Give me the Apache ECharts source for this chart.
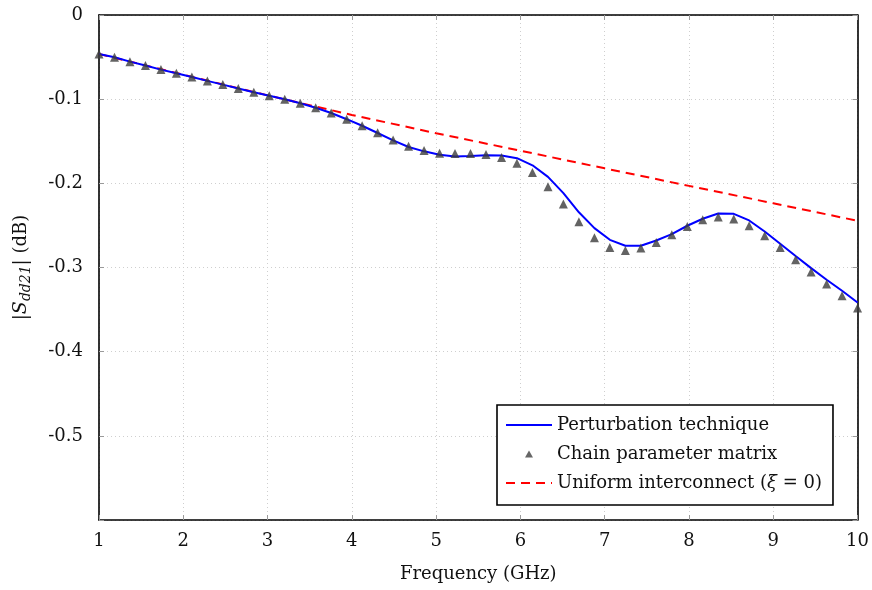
<!DOCTYPE html>
<html>
<head>
<meta charset="utf-8">
<script src="https://cdn.jsdelivr.net/npm/echarts@6/dist/echarts.min.js"></script>
<style>
html,body{margin:0;padding:0;background:#fff;}
#chart{width:872px;height:590px;}
</style>
</head>
<body>
<div id="chart"></div>
<script>
// Frequencies (GHz) for the sampled curves
const freqs = [1.000,1.184,1.367,1.551,1.735,1.918,2.102,2.286,2.469,2.653,
  2.837,3.020,3.204,3.388,3.571,3.755,3.939,4.122,4.306,4.490,
  4.673,4.857,5.041,5.224,5.408,5.592,5.776,5.959,6.143,6.327,
  6.510,6.694,6.878,7.061,7.245,7.429,7.612,7.796,7.980,8.163,
  8.347,8.531,8.714,8.898,9.082,9.265,9.449,9.633,9.816,10.000];

// Perturbation technique (blue solid)
const perturbVals = [-0.0463,-0.0502,-0.0554,-0.0601,-0.0649,-0.0692,-0.0736,-0.0783,-0.0827,-0.0874,
  -0.0918,-0.0960,-0.1001,-0.1048,-0.1102,-0.1165,-0.1238,-0.1316,-0.1402,-0.1490,
  -0.1568,-0.1620,-0.1660,-0.1680,-0.1674,-0.1666,-0.1670,-0.1701,-0.1786,-0.1923,
  -0.2117,-0.2344,-0.2532,-0.2671,-0.2742,-0.2742,-0.2679,-0.2603,-0.2504,-0.2421,
  -0.2358,-0.2362,-0.2441,-0.2572,-0.2718,-0.2864,-0.3007,-0.3145,-0.3276,-0.3415];

// Chain parameter matrix (triangles)
const chainVals = [-0.0463,-0.0502,-0.0554,-0.0601,-0.0649,-0.0692,-0.0736,-0.0783,-0.0827,-0.0874,
  -0.0918,-0.0960,-0.1001,-0.1048,-0.1102,-0.1165,-0.1238,-0.1316,-0.1399,-0.1484,
  -0.1560,-0.1610,-0.1642,-0.1646,-0.1646,-0.1658,-0.1694,-0.1760,-0.1872,-0.2040,
  -0.2245,-0.2455,-0.2647,-0.2762,-0.2798,-0.2769,-0.2703,-0.2611,-0.2513,-0.2433,
  -0.2400,-0.2425,-0.2504,-0.2623,-0.2762,-0.2908,-0.3054,-0.3197,-0.3335,-0.3482];

// Uniform interconnect (red dashed)
const uniformFreqs = [1,2,3,4,5,6,7,8,9,10];
const uniformVals = [-0.0463,-0.0710,-0.0955,-0.1187,-0.1405,-0.1612,-0.1822,-0.2030,-0.2237,-0.2445];

const xTicks = [1,2,3,4,5,6,7,8,9,10];
const yTicks = [0,-0.1,-0.2,-0.3,-0.4,-0.5];

const seriesNames = ['Perturbation technique','Chain parameter matrix','Uniform interconnect (ξ = 0)'];

const FONT = 'DejaVu Serif';
const zip = (xs, ys) => xs.map((x, i) => [x, ys[i]]);

const chart = echarts.init(document.getElementById('chart'), null, {renderer: 'canvas'});

const gridLine = {show: true, lineStyle: {color: '#cfcfcf', width: 1, type: [1, 3]}};
const tickStyle = {show: true, inside: true, length: 5, lineStyle: {color: '#9a9a9a', width: 1}};
const frameLine = {show: true, onZero: false, lineStyle: {color: '#000', width: 1.6}};

chart.setOption({
  animation: false,
  backgroundColor: '#fff',
  grid: {left: 99, right: 13, top: 15, bottom: 70, containLabel: false},
  xAxis: [{
    type: 'value', min: 1, max: 10, interval: 1,
    name: 'Frequency (GHz)', nameLocation: 'middle', nameGap: 45,
    nameTextStyle: {fontFamily: FONT, fontSize: 18, color: '#111'},
    axisLine: frameLine,
    axisTick: tickStyle,
    splitLine: gridLine,
    axisLabel: {fontFamily: FONT, fontSize: 18, color: '#111', margin: 12,
      formatter: v => xTicks.includes(v) ? String(v) : ''}
  }, {
    type: 'value', min: 1, max: 10, interval: 1, position: 'top',
    axisLine: frameLine, axisTick: tickStyle, axisLabel: {show: false}, splitLine: {show: false}
  }],
  yAxis: [{
    type: 'value', min: -0.6, max: 0, interval: 0.1,
    name: '|{s|S}{sub|dd21}| (dB)', nameLocation: 'middle', nameGap: 66, nameRotate: 90,
    nameTextStyle: {fontFamily: FONT, fontSize: 18, color: '#111',
      rich: {
        s: {fontFamily: FONT, fontSize: 19, fontStyle: 'italic', color: '#111'},
        sub: {fontFamily: FONT, fontSize: 14, fontStyle: 'italic', color: '#111', padding: [9, 0, 0, 0]}
      }},
    axisLine: frameLine,
    axisTick: tickStyle,
    splitLine: gridLine,
    axisLabel: {fontFamily: FONT, fontSize: 18, color: '#111', margin: 16,
      formatter: v => {
        const m = yTicks.find(t => Math.abs(t - v) < 1e-9);
        if (m === undefined) return '';
        return m === 0 ? '0' : m.toFixed(1);
      }}
  }, {
    type: 'value', min: -0.6, max: 0, interval: 0.1, position: 'right',
    axisLine: frameLine, axisTick: tickStyle, axisLabel: {show: false}, splitLine: {show: false}
  }],
  legend: {
    orient: 'vertical', left: 497, top: 405,
    backgroundColor: '#fff', borderColor: '#000', borderWidth: 1.6,
    padding: [11, 11, 13, 8], itemGap: 11, itemWidth: 46, itemHeight: 10,
    textStyle: {fontFamily: FONT, fontSize: 18, color: '#111',
      rich: {i: {fontFamily: FONT, fontSize: 18, fontStyle: 'italic', color: '#111'}}},
    formatter: name => name === seriesNames[2] ? 'Uniform interconnect ({i|ξ} = 0)' : name,
    data: [
      {name: seriesNames[0], itemStyle: {opacity: 0}},
      {name: seriesNames[1], icon: 'path://M0,0 M10,10 M5,1.5 L9,8.5 L1,8.5 Z', itemStyle: {color: '#404040'}},
      {name: seriesNames[2], itemStyle: {opacity: 0}}
    ]
  },
  series: [
    {
      name: seriesNames[0], type: 'line', symbol: 'none', z: 3,
      data: zip(freqs, perturbVals),
      lineStyle: {color: '#0000ff', width: 2}, itemStyle: {color: '#0000ff'}
    },
    {
      name: seriesNames[1], type: 'scatter', symbol: 'triangle', symbolSize: 9, z: 4,
      data: zip(freqs, chainVals),
      itemStyle: {color: '#3c3c3c'}
    },
    {
      name: seriesNames[2], type: 'line', symbol: 'none', z: 2,
      data: zip(uniformFreqs, uniformVals),
      lineStyle: {color: '#ff0000', width: 2, type: [9, 6]}, itemStyle: {color: '#ff0000'}
    }
  ]
});
</script>
</body>
</html>
